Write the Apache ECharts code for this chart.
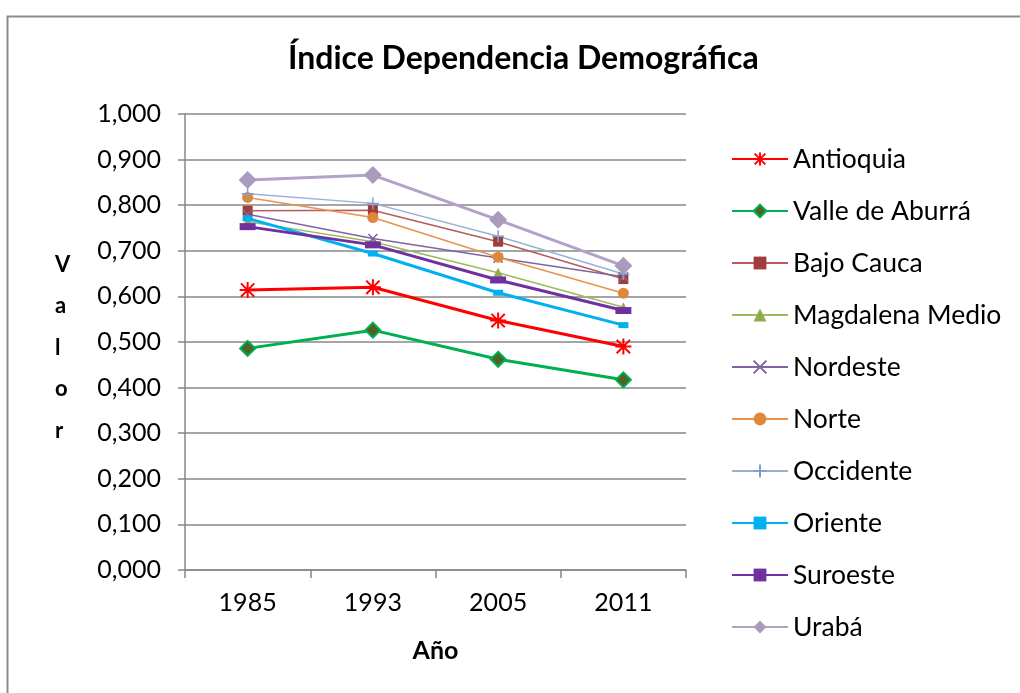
<!DOCTYPE html>
<html>
<head>
<meta charset="utf-8">
<script src="https://cdn.jsdelivr.net/npm/echarts@6/dist/echarts.min.js"></script>
<style>
  html, body { margin: 0; padding: 0; background: #fff; }
  #chart { width: 1020px; height: 693px; }
</style>
</head>
<body>
<div id="chart"></div>
<script>
// datos
var years = ["1985", "1993", "2005", "2011"];
var antioquia = [0.614, 0.620, 0.547, 0.490];
var valleAburra = [0.486, 0.526, 0.462, 0.417];
var bajoCauca = [0.788, 0.789, 0.720, 0.638];
var magdalenaMedio = [0.764, 0.720, 0.652, 0.576];
var nordeste = [0.780, 0.727, 0.684, 0.643];
var norte = [0.817, 0.773, 0.686, 0.607];
var occidente = [0.825, 0.804, 0.732, 0.649];
var oriente = [0.771, 0.694, 0.608, 0.537];
var suroeste = [0.753, 0.713, 0.636, 0.569];
var uraba = [0.855, 0.866, 0.768, 0.667];

var font = "Lato";
var star = "path://M0,0 L10,10 M10,0 L0,10 M5,-1 L5,11 M-1,5 L11,5";
var cross = "path://M0,0 L10,10 M10,0 L0,10";
var plus = "path://M5,0 L5,10 M0,5 L10,5";

function mk(name, data, color, width, symbol, size, item) {
    return {
        name: name, type: "line", data: data,
        symbol: symbol, symbolSize: size, showAllSymbol: true,
        lineStyle: { color: color, width: width },
        itemStyle: item || { color: color },
        emphasis: { disabled: true },
        z: 2
    };
}

var series = [
    mk("Antioquia", antioquia, "#ff0000", 3, star, 16, { color: "#ff0000", borderColor: "#ff0000", borderWidth: 2 }),
    mk("Valle de Aburrá", valleAburra, "#00b050", 3, "diamond", 15, { color: "#4f6228", borderColor: "#00b050", borderWidth: 2 }),
    mk("Bajo Cauca", bajoCauca, "#b65c5a", 1.5, "rect", 10, { color: "#a03c3a" }),
    mk("Magdalena Medio", magdalenaMedio, "#9bbb59", 1.5, "triangle", 10, { color: "#8cad4a" }),
    mk("Nordeste", nordeste, "#8064a2", 1.5, cross, 9, { color: "#8064a2", borderColor: "#8064a2", borderWidth: 1.5 }),
    mk("Norte", norte, "#e8924c", 1.5, "circle", 11, { color: "#e0873a" }),
    mk("Occidente", occidente, "#95b3d7", 1.5, plus, 12, { color: "#7f9fcf", borderColor: "#7f9fcf", borderWidth: 1.5 }),
    mk("Oriente", oriente, "#00b0f0", 3, "rect", [10, 6], { color: "#00b0f0" }),
    mk("Suroeste", suroeste, "#7030a0", 3, "rect", [16, 7], { color: "#7030a0" }),
    mk("Urabá", uraba, "#b3a2c7", 3, "diamond", 18, { color: "#a99bbd" })
];

var myChart = echarts.init(document.getElementById("chart"));
myChart.setOption({
    backgroundColor: "#fff",
    animation: false,
    title: {
        text: "Índice Dependencia Demográfica",
        left: 283, top: 38, itemGap: 0,
        textStyle: { fontFamily: font, fontSize: 32, fontWeight: "bold", color: "#000" }
    },
    graphic: [
        { type: "rect", left: 5, top: 14, shape: { width: 1040, height: 720 }, style: { fill: "none", stroke: "#8c8c8c", lineWidth: 2 }, z: 0 },
        { type: "text", left: 55, top: 244, style: { text: "V\na\nl\no\nr", fontFamily: font, fontSize: 22, fontWeight: "bold", lineHeight: 41.5, fill: "#000", align: "center" } }
    ],
    legend: {
        orient: "vertical", left: 726, top: 140,
        itemWidth: 56, itemHeight: 16, itemGap: 24,
        textStyle: { fontFamily: font, fontSize: 26.5, color: "#000", lineHeight: 28 },
        data: series.map(function (s) { return s.name; })
    },
    grid: { left: 185, right: 334, top: 114, bottom: 123 },
    xAxis: {
        type: "category", data: years, boundaryGap: true,
        name: "Año", nameLocation: "middle", nameGap: 68,
        nameTextStyle: { fontFamily: font, fontSize: 25, fontWeight: "bold", color: "#000" },
        axisLine: { lineStyle: { color: "#878787", width: 1.5 } },
        axisTick: { show: true, length: 8, lineStyle: { color: "#878787", width: 1.5 } },
        axisLabel: { fontFamily: font, fontSize: 25, color: "#000", margin: 20 }
    },
    yAxis: {
        type: "value", min: 0, max: 1, interval: 0.1,
        axisLine: { show: true, lineStyle: { color: "#878787", width: 1.5 } },
        axisTick: { show: true, length: 7, lineStyle: { color: "#878787", width: 1.5 } },
        splitLine: { lineStyle: { color: "#878787", width: 1.5 } },
        axisLabel: {
            fontFamily: font, fontSize: 25, color: "#000", margin: 24,
            formatter: function (v) { return v.toFixed(3).replace(".", ","); }
        }
    },
    series: series
});
</script>
</body>
</html>
